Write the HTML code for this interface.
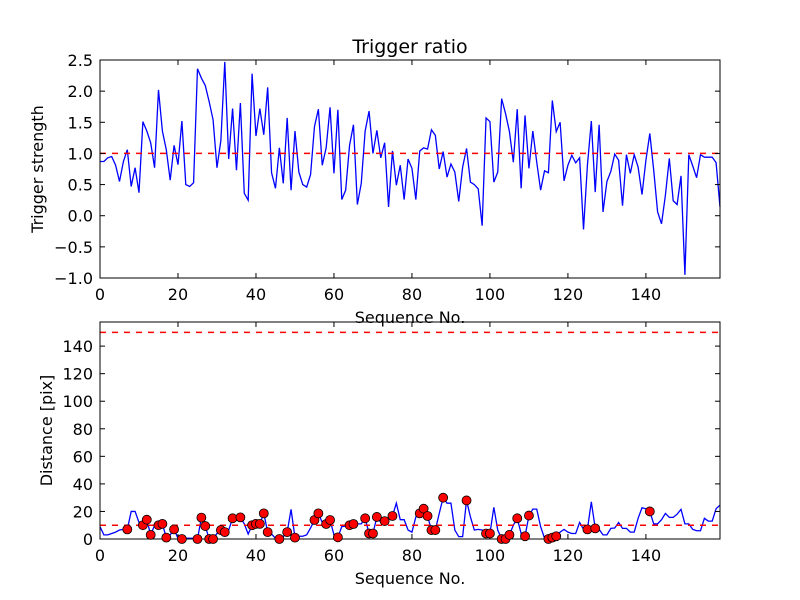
<!DOCTYPE html>
<html><head><meta charset="utf-8"><style>
body{margin:0;background:#fff;}
svg{display:block;font-family:"DejaVu Sans","Liberation Sans",sans-serif;}
</style></head><body>
<svg id="chart" width="800" height="600">
<rect width="800" height="600" fill="#fff"/>
<g id="top"></g><g id="bot"></g>
</svg>
<script>
const ratioValues=[0.87,0.87,0.93,0.95,0.81,0.55,0.87,1.06,0.47,0.77,0.37,1.51,1.36,1.17,0.77,2.02,1.36,1.06,0.57,1.13,0.82,1.52,0.50,0.47,0.53,2.36,2.21,2.09,1.83,1.54,0.77,1.21,2.47,0.91,1.72,0.73,1.81,0.36,0.25,2.28,1.28,1.72,1.30,2.06,0.69,0.44,1.09,0.52,1.57,0.41,1.36,0.70,0.50,0.46,0.66,1.43,1.71,0.81,1.09,1.74,0.68,1.70,0.26,0.41,1.13,1.46,0.18,0.52,1.36,1.68,1.00,1.37,0.93,1.17,0.14,1.04,0.49,0.81,0.26,0.91,0.76,0.26,1.04,1.09,1.07,1.38,1.29,0.75,1.03,0.62,0.83,0.70,0.23,0.78,1.08,0.54,0.50,0.43,-0.16,1.57,1.51,0.54,0.70,1.88,1.64,1.35,0.86,1.71,0.44,1.61,0.76,1.36,0.86,0.41,0.72,0.69,1.85,1.35,1.50,0.56,0.81,0.97,0.85,0.93,-0.22,0.81,1.52,0.38,1.46,0.06,0.55,0.71,0.99,0.89,0.16,0.98,0.68,0.98,0.78,0.34,0.89,1.32,0.73,0.06,-0.13,0.33,0.92,0.24,0.18,0.64,-0.95,0.98,0.80,0.61,0.98,0.94,0.94,0.94,0.85,0.14];
const distValues=[9,3,3,4,5,6.5,7,7,20,20,12,10,14,3,10,10,11,1,3,7,0.5,0,0.5,0.5,0.5,0,15.5,9.4,0,0,4,6.5,5,6.5,15,14,15.7,11,3.6,10,11,11,18.6,5,3.6,0.5,0,1.7,5,21.5,1,2,2,3,8,13.8,18.6,12,10.9,13.8,3,1.2,9,9.4,10,10.9,11,11,15,4,4,16,12,13,14,16.7,26,14,14,6.5,5,16,18.6,22,16.7,6.5,6.5,18.6,30,26,26,6.5,1.7,1.7,28,16,6.5,7,6.5,4,4,23,6.5,0,0,3,10,15,4,2,17,21.7,21.7,9,0.5,0,1,2,5,7,5,4,4,12,7,7,27,7.7,7,3,3,7.7,8,12,7.7,7.7,5,5,15,22.7,22,20,11,11,14,18.6,15.7,15.7,18,21.5,11,11,7,6,6,15,13,13,22,24.6];
const markerIdx=[7,11,12,13,15,16,17,19,21,25,26,27,28,29,31,32,34,36,39,40,41,42,43,46,48,50,55,56,58,59,61,64,65,68,69,70,71,73,75,82,83,84,85,86,88,94,99,100,103,104,105,107,109,110,115,116,117,125,127,141];
const xTicks=[0,20,40,60,80,100,120,140];
const yTicksTop=[-1.0,-0.5,0.0,0.5,1.0,1.5,2.0,2.5];
const yTicksBot=[0,20,40,60,80,100,120,140];
const NS="http://www.w3.org/2000/svg";
function mk(p,t,a){const e=document.createElementNS(NS,t);for(const k in a)e.setAttribute(k,a[k]);p.appendChild(e);return e;}
const L=100,R=720,XMAX=159;
const xs=v=>L+v/XMAX*(R-L);
function panel(g,top,bot,ymin,ymax,yt,fmt,ylab,vals,thr,name){
  const ys=v=>bot-(v-ymin)/(ymax-ymin)*(bot-top);
  let d="";vals.forEach((v,i)=>{d+=(i?"L":"M")+xs(i).toFixed(2)+" "+ys(v).toFixed(2);});
  const ln=mk(g,"path",{d:d,fill:"none",stroke:"#0000ff","stroke-width":1.3});
  
  
  thr.forEach(t=>{const h=mk(g,"line",{x1:L,x2:R,y1:ys(t),y2:ys(t),stroke:"#ff0000","stroke-width":1.5,"stroke-dasharray":"6,6"});
    
    });
  xTicks.forEach(t=>{const x=xs(t);
    mk(g,"line",{x1:x,x2:x,y1:bot,y2:bot-5,stroke:"#000"});mk(g,"line",{x1:x,x2:x,y1:top,y2:top+5,stroke:"#000"});
    const tx=mk(g,"text",{x:x,y:bot+22,"text-anchor":"middle","font-size":16});tx.textContent=t;
    
    });
  yt.forEach(t=>{const y=ys(t);
    mk(g,"line",{x1:L,x2:L+5,y1:y,y2:y,stroke:"#000"});mk(g,"line",{x1:R,x2:R-5,y1:y,y2:y,stroke:"#000"});
    const tx=mk(g,"text",{x:L-7,y:y+6,"text-anchor":"end","font-size":16});tx.textContent=fmt(t);
    
    });
  const fr=mk(g,"rect",{x:L,y:top,width:R-L,height:bot-top,fill:"none",stroke:"#000","stroke-width":1});
  
  
  const xl=mk(g,"text",{x:(L+R)/2,y:bot+45,"text-anchor":"middle","font-size":16});xl.textContent="Sequence No.";
  
  
  const cy=(top+bot)/2;
  const yl=mk(g,"text",{x:0,y:0,transform:`translate(${name==="ratio"?43:52},${cy}) rotate(-90)`,"text-anchor":"middle","font-size":16});yl.textContent=ylab;
  
  
  return ys;
}
const gt=document.getElementById("top"),gb=document.getElementById("bot");
panel(gt,60,278,-1,2.5,yTicksTop,t=>(t<0?"\u2212"+(-t).toFixed(1):t.toFixed(1)),"Trigger strength",ratioValues,[1],"ratio");
const title=mk(gt,"text",{x:410,y:53,"text-anchor":"middle","font-size":19});title.textContent="Trigger ratio";


const ysb=panel(gb,322,539,0,157.5,yTicksBot,t=>t,"Distance [pix]",distValues,[10,150],"distance");
markerIdx.forEach(i=>{const c=mk(gb,"circle",{cx:xs(i),cy:ysb(distValues[i]),r:4.5,fill:"#ff0000",stroke:"#000","stroke-width":0.8});
  
  });
</script>
</body></html>
